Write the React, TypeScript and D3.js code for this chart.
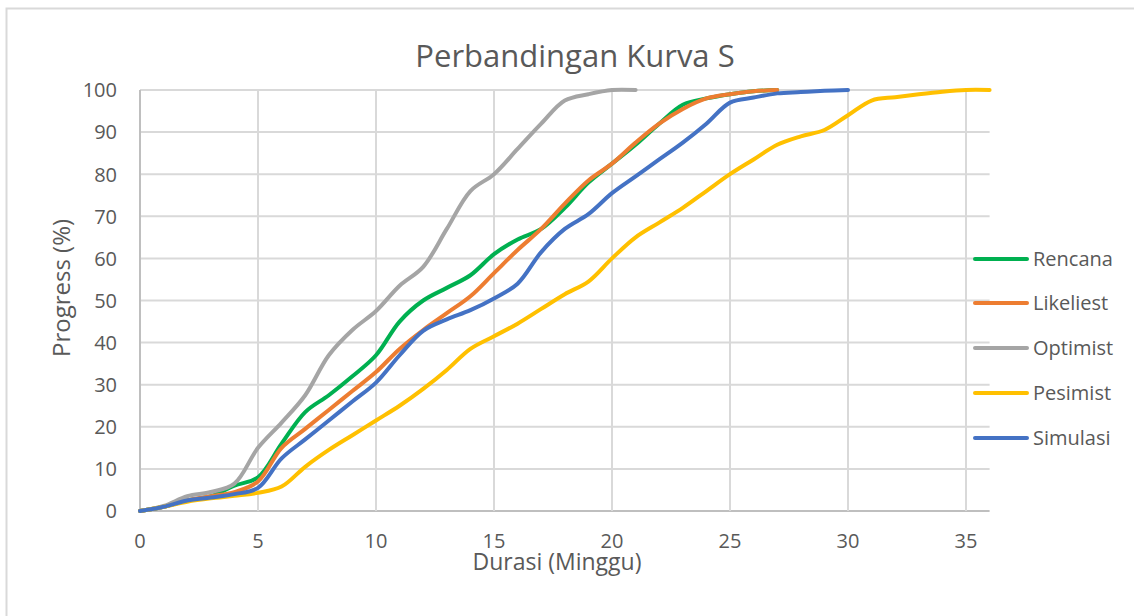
import React from "react";
import * as d3 from "d3";

const weeks = d3.range(0, 37);
const rencana = [0, 1, 2.5, 3.5, 6, 8, 16, 23.5, 27.5, 32, 37, 45, 50, 53, 56, 61, 64.5, 67, 72, 78, 82.5, 87, 92, 96.5, 98, 99, 99.7, 100];
const likeliest = [0, 1, 2.5, 3.5, 4.5, 7, 15, 19.5, 24, 28.5, 33, 38.5, 43, 47, 51, 56.5, 62, 67, 73, 78.5, 82.5, 87.5, 92, 95.5, 98, 99, 99.7, 100];
const optimist = [0, 1.2, 3.5, 4.5, 6.5, 15, 21, 27.5, 37, 43, 47.5, 53.5, 58, 67, 76, 80, 86, 92, 97.5, 99, 100, 100];
const pesimist = [0, 1, 2.2, 3, 3.6, 4.3, 5.8, 10.5, 14.5, 18, 21.5, 25, 29, 33.5, 38.5, 41.5, 44.5, 48, 51.5, 54.5, 60, 65, 68.5, 72, 76, 80, 83.5, 87, 89, 90.5, 94, 97.5, 98.3, 99, 99.6, 100, 100];
const simulasi = [0, 1, 2.5, 3.2, 4, 5.5, 12.5, 17, 21.5, 26, 30.5, 37, 42.8, 45.5, 47.7, 50.5, 54, 61.5, 67, 70.5, 75.5, 79.5, 83.5, 87.5, 92, 97, 98.2, 99.2, 99.5, 99.8, 100];

const seriesNames = ["Rencana", "Likeliest", "Optimist", "Pesimist", "Simulasi"];
const seriesValues = [rencana, likeliest, optimist, pesimist, simulasi];
const colors = ["#00B050", "#ED7D31", "#A5A5A5", "#FFC000", "#4472C4"];
const xTicks = [0, 5, 10, 15, 20, 25, 30, 35];
const yTicks = [0, 10, 20, 30, 40, 50, 60, 70, 80, 90, 100];

const W = 1134, H = 616;
const FONT = "'Open Sans', sans-serif";

export default function App() {
  const x = d3.scaleLinear().domain([0, 36]).range([140, 989.6]);
  const y = d3.scaleLinear().domain([0, 100]).range([511, 90]);
  const line = d3.line<number>()
    .x((_, i) => x(weeks[i]))
    .y((d) => y(d))
    .curve(d3.curveCatmullRom.alpha(0.5));
  const legendY = [259, 303, 348, 393, 438];

  return (
    <svg width={W} height={H} style={{ position: "absolute", left: 0, top: 0 }}>
      <rect x={0} y={0} width={W} height={H} fill="#fff" />
      <rect x={6.5} y={8.5} width={W + 10} height={H + 10} fill="#fff" stroke="#d9d9d9" strokeWidth={2} />
      <text x={575} y={67} textAnchor="middle" fontFamily={FONT} fontSize={31} fill="#595959">Perbandingan Kurva S</text>
      {yTicks.map((t) => (
        <g key={"y" + t}>
          <line x1={x(0)} x2={x(36)} y1={y(t)} y2={y(t)} stroke={t === 0 ? "#bfbfbf" : "#d9d9d9"} strokeWidth={2} />
          <text x={117} y={y(t) + 7.3} textAnchor="end" fontFamily={FONT} fontSize={20} fill="#595959">{t}</text>
        </g>
      ))}
      {xTicks.map((t) => (
        <g key={"x" + t}>
          <line x1={x(t)} x2={x(t)} y1={y(100)} y2={y(0)} stroke={t === 0 ? "#bfbfbf" : "#d9d9d9"} strokeWidth={2} />
          <text x={x(t)} y={548} textAnchor="middle" fontFamily={FONT} fontSize={20} fill="#595959">{t}</text>
        </g>
      ))}
      {seriesValues.map((vals, i) => (
        <path key={seriesNames[i]} d={line(vals) || ""} fill="none" stroke={colors[i]} strokeWidth={4} strokeLinejoin="round" strokeLinecap="round" />
      ))}
      <text x={557} y={570} textAnchor="middle" fontFamily={FONT} fontSize={23} fill="#595959">Durasi (Minggu)</text>
      <text transform={`translate(70,288) rotate(-90)`} textAnchor="middle" fontFamily={FONT} fontSize={24} fill="#595959">Progress (%)</text>
      {seriesNames.map((n, i) => (
        <g key={"lg" + n}>
          <line x1={975} x2={1027} y1={legendY[i]} y2={legendY[i]} stroke={colors[i]} strokeWidth={4} strokeLinecap="round" />
          <text x={1033} y={legendY[i] + 7.3} fontFamily={FONT} fontSize={20} fill="#595959">{n}</text>
        </g>
      ))}
    </svg>
  );
}
